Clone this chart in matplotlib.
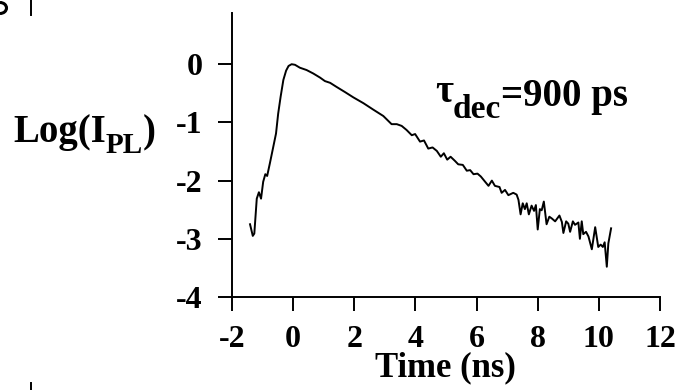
"""
PL decay trace, log intensity vs time
"""

import matplotlib
matplotlib.use('Agg')
import matplotlib.pyplot as plt
from matplotlib.lines import Line2D
from matplotlib.patches import Arc
from matplotlib.transforms import IdentityTransform

plt.rcParams['font.family'] = ['Liberation Serif', 'DejaVu Serif']
plt.rcParams['font.weight'] = 'bold'

# Decay trace (time in ns, log10 of PL intensity)
time_ns = [
    -1.41, -1.32, -1.27, -1.19, -1.12, -1.05, -0.98, -0.91, -0.85, -0.76,
    -0.65, -0.56, -0.49, -0.41, -0.32, -0.23, -0.15, -0.05, 0.06, 0.22,
    0.44, 0.66, 0.88, 1.04, 1.21, 1.42, 1.70, 1.97, 2.30, 2.62,
    2.95, 3.22, 3.39, 3.55, 3.71, 3.88, 3.99, 4.15, 4.28, 4.42,
    4.56, 4.70, 4.83, 4.93, 5.04, 5.15, 5.29, 5.40, 5.55, 5.68,
    5.79, 5.90, 6.03, 6.14, 6.28, 6.39, 6.50, 6.60, 6.75, 6.82,
    6.93, 7.04, 7.20, 7.31, 7.37, 7.44, 7.51, 7.58, 7.64, 7.71,
    7.80, 7.88, 7.94, 8.00, 8.07, 8.13, 8.20, 8.29, 8.38, 8.46,
    8.57, 8.71, 8.79, 8.84, 8.93, 9.00, 9.06, 9.15, 9.22, 9.33,
    9.38, 9.44, 9.49, 9.58, 9.66, 9.77, 9.88, 9.98, 10.06, 10.13,
    10.19, 10.26, 10.31, 10.40,
]
log_ipl = [
    -2.75, -2.95, -2.91, -2.31, -2.20, -2.31, -2.02, -1.89, -1.92, -1.70,
    -1.42, -1.19, -0.85, -0.56, -0.27, -0.11, -0.03, 0.00, -0.01, -0.06,
    -0.10, -0.16, -0.23, -0.29, -0.32, -0.39, -0.48, -0.57, -0.67, -0.78,
    -0.89, -1.03, -1.03, -1.06, -1.13, -1.22, -1.20, -1.33, -1.31, -1.45,
    -1.43, -1.49, -1.59, -1.53, -1.64, -1.59, -1.66, -1.72, -1.73, -1.83,
    -1.82, -1.89, -1.88, -1.93, -2.02, -2.09, -2.00, -2.09, -2.11, -2.21,
    -2.16, -2.25, -2.21, -2.24, -2.33, -2.58, -2.39, -2.49, -2.39, -2.58,
    -2.43, -2.52, -2.42, -2.84, -2.49, -2.51, -2.36, -2.75, -2.62, -2.65,
    -2.70, -2.60, -2.71, -2.90, -2.70, -2.74, -2.88, -2.70, -2.76, -2.72,
    -3.00, -2.70, -2.92, -2.88, -2.96, -3.18, -2.80, -3.14, -3.10, -3.14,
    -3.06, -3.48, -3.08, -2.82,
]

x_ticks = [-2, 0, 2, 4, 6, 8, 10, 12]
y_ticks = [-4, -3, -2, -1, 0]

fig = plt.figure(figsize=(6.85, 3.9), dpi=100, facecolor='white')
W, H = 685, 390
ax = fig.add_axes([232 / W, 1 - 297 / H, (660 - 232) / W, (297 - 13) / H])

ax.plot(time_ns, log_ipl, color='black', linewidth=1.4, solid_joinstyle='round')

ax.set_xlim(-2, 12)
ax.set_ylim(-4, 0.88)
ax.set_xticks(x_ticks)
ax.set_yticks(y_ticks)
ax.set_xticklabels([str(v) for v in x_ticks])
ax.set_yticklabels([str(v) for v in y_ticks])

for side in ('top', 'right'):
    ax.spines[side].set_visible(False)
for side in ('left', 'bottom'):
    ax.spines[side].set_linewidth(1.4)

ax.tick_params(axis='both', direction='out', length=10, width=1.4, labelsize=23)
ax.tick_params(axis='y', pad=11)
ax.tick_params(axis='x', pad=10)
for lbl in ax.get_xticklabels() + ax.get_yticklabels():
    lbl.set_fontweight('bold')

renderer = fig.canvas.get_renderer()


def place_pieces(x_px, base_px, pieces):
    """Write text pieces one after another; each piece is (text, size, drop_px)."""
    x = x_px
    for text, size, drop in pieces:
        t = fig.text(x / W, 1 - (base_px + drop) / H, text, fontsize=size,
                     fontweight='bold', ha='left', va='baseline')
        x += t.get_window_extent(renderer).width


# Axis titles placed like the original figure
place_pieces(13, 142, [('Log(I', 28, 0), ('PL', 21, 11), (')', 28, 0)])
fig.text(445 / W, 1 - 376 / H, 'Time (ns)', fontsize=25,
         fontweight='bold', ha='center', va='baseline')

# Decay time annotation
place_pieces(435, 106, [('\u03c4', 28, -4), ('dec', 24, 12), ('=900 ps', 28, 0)])

# Bits of the neighbouring panel cut off at the left edge
fig.add_artist(Line2D([31 / W, 31 / W], [1, 1 - 15 / H], color='black', linewidth=1.4))
fig.add_artist(Line2D([31 / W, 31 / W], [0, 7 / H], color='black', linewidth=1.4))
fig.add_artist(Arc((0, H - 8), 13, 11, theta1=-90, theta2=90,
                   transform=IdentityTransform(), color='black', linewidth=2.2))

plt.savefig('out.png', dpi=100, facecolor='white')
plt.close()
